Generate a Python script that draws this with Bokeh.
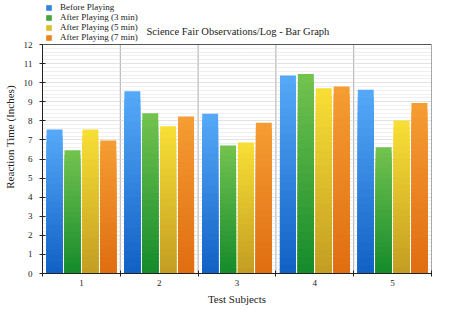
from bokeh.plotting import figure
from bokeh.models import ColumnDataSource, FixedTicker, Legend, LegendItem, Label, Span
from bokeh.embed import file_html
from bokeh.resources import INLINE

subjects = ["1", "2", "3", "4", "5"]
series_names = ["Before Playing", "After Playing (3 min)", "After Playing (5 min)", "After Playing (7 min)"]
before = [7.55, 9.55, 8.37, 10.38, 9.63]
after3 = [6.46, 8.40, 6.71, 10.45, 6.62]
after5 = [7.55, 7.72, 6.87, 9.71, 8.02]
after7 = [6.97, 8.23, 7.90, 9.80, 8.93]
yticks = list(range(0, 13))

series = [before, after3, after5, after7]
top_colors = ["#55a8f7", "#72c24e", "#f7de35", "#f59c32"]
bot_colors = ["#1262c6", "#168c2c", "#c49e22", "#e06e12"]
offsets = [-0.345, -0.115, 0.115, 0.345]
bar_w = 0.205
FONT = "Liberation Serif"
TXT = "#222222"
YMAX = 12
X0, X1 = 0.5, 5.5

W, H = 474, 323
FRAME_BOTTOM = 273
PLOT_PX = 229  # pixel height of the 0..12 area
y_top = YMAX * FRAME_BOTTOM / PLOT_PX  # extra room above for legend and title

def hex2rgb(h):
    h = h.lstrip("#")
    return tuple(int(h[i:i+2], 16) for i in (0, 2, 4))

def mix(c1, c2, t):
    a, b = hex2rgb(c1), hex2rgb(c2)
    return "#%02x%02x%02x" % tuple(int(round(a[k] + (b[k] - a[k]) * t)) for k in range(3))

p = figure(width=W, height=H, output_backend="svg", toolbar_location=None,
           x_range=(X0, X1), y_range=(0, y_top),
           min_border_left=42, min_border_right=43, min_border_top=0, min_border_bottom=H - FRAME_BOTTOM)
p.outline_line_color = None

xs_num = list(range(1, len(subjects) + 1))

# vertical separators between groups
seps = [x + 0.5 for x in xs_num[:-1]]
p.segment(x0=seps, y0=[0] * len(seps), x1=seps, y1=[YMAX] * len(seps),
          line_color="#aaaaaa", line_width=1, level="underlay")

nb = 24
bar_renderers = []
for s, vals in enumerate(series):
    xs, tops, cols = [], [], []
    for i in range(nb):
        frac = 1 - i / nb
        t = i / (nb - 1)
        for j, v in enumerate(vals):
            xs.append(xs_num[j] + offsets[s])
            tops.append(v * frac)
            cols.append(mix(top_colors[s], bot_colors[s], t))
    src = ColumnDataSource(dict(x=xs, top=tops, color=cols))
    r = p.vbar(x="x", top="top", bottom=0, width=bar_w, fill_color="color", line_color=None, source=src)
    bar_renderers.append(r)

# frame lines (top and right)
p.add_layout(Span(location=YMAX, dimension="width", line_color="#555555", line_width=1))
p.segment(x0=[X1], y0=[0], x1=[X1], y1=[YMAX], line_color="#555555", line_width=1)

# legend
items = []
mid = nb // 2
for s, name in enumerate(series_names):
    items.append(LegendItem(label=name, renderers=[bar_renderers[s]], index=mid * len(subjects)))
legend = Legend(items=items, location=(3, FRAME_BOTTOM - 42), padding=0, margin=0, spacing=-1,
                border_line_color=None, background_fill_alpha=0,
                glyph_width=7, glyph_height=7, label_height=9, label_standoff=8,
                label_text_font=FONT, label_text_font_size="9px", label_text_line_height=1.0,
                label_text_color=TXT, label_text_baseline="middle")
p.add_layout(legend, "center")

title = Label(x=146 - 42, y=FRAME_BOTTOM - 31, x_units="screen", y_units="screen",
              text="Science Fair Observations/Log - Bar Graph",
              text_font=FONT, text_font_size="10.5px", text_color=TXT, text_baseline="middle")
p.add_layout(title)

# axes
p.xaxis.ticker = FixedTicker(ticks=xs_num, minor_ticks=[X0] + seps + [X1])
p.xaxis.major_label_overrides = {i + 1: subjects[i] for i in range(len(subjects))}
p.xaxis.major_tick_line_color = None
p.xaxis.minor_tick_in = 3
p.xaxis.minor_tick_out = 3
p.xaxis.minor_tick_line_color = TXT
p.xaxis.axis_label = "Test Subjects"
p.yaxis.ticker = FixedTicker(ticks=yticks)
p.yaxis.bounds = (0, YMAX)
p.yaxis.major_tick_in = 3
p.yaxis.major_tick_out = 3
p.yaxis.major_tick_line_color = TXT
p.yaxis.minor_tick_line_color = None
p.yaxis.axis_label = "Reaction Time (Inches)"
for ax in (p.xaxis[0], p.yaxis[0]):
    ax.axis_line_color = TXT
    ax.major_label_text_font = FONT
    ax.major_label_text_font_size = "9px"
    ax.major_label_text_color = TXT
    ax.axis_label_text_font = FONT
    ax.axis_label_text_font_size = "11px"
    ax.axis_label_text_font_style = "normal"
    ax.axis_label_text_color = TXT
p.xaxis.major_label_standoff = 0
p.xaxis.axis_label_standoff = 4
p.yaxis.major_label_standoff = 7
p.yaxis.axis_label_standoff = 5

p.xgrid.visible = False
p.ygrid.ticker = FixedTicker(ticks=yticks, minor_ticks=[y / 5 for y in range(YMAX * 5 + 1)])
p.ygrid.grid_line_color = "#d4d4d4"
p.ygrid.grid_line_dash = "1 1"
p.ygrid.minor_grid_line_color = "#dedede"
p.ygrid.minor_grid_line_dash = "1 1"
p.ygrid.level = "underlay"

open("out.html", "w").write(file_html(p, INLINE))
